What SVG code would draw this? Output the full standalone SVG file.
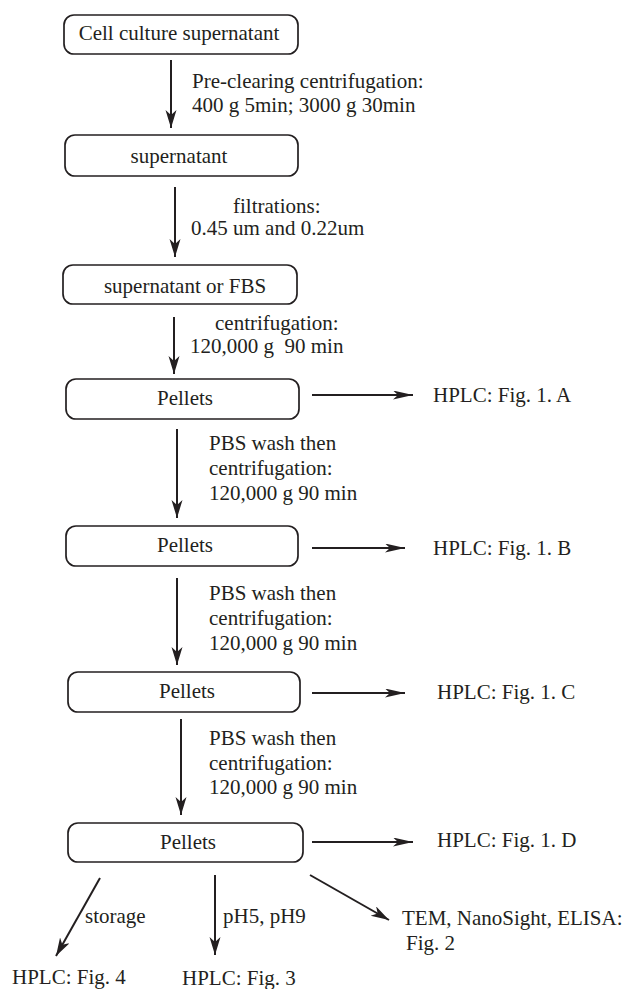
<svg xmlns="http://www.w3.org/2000/svg" width="625" height="989" viewBox="0 0 625 989">
<defs>
<style>
text{font-family:"Liberation Serif","Times New Roman",serif;font-size:21px;fill:#231f20}
.box{fill:#fff;stroke:#231f20;stroke-width:1.7}
.c{text-anchor:middle}
.ln{stroke:#231f20;stroke-width:2;fill:none}
</style>
<marker id="av" markerUnits="userSpaceOnUse" markerWidth="19" markerHeight="12" refX="18" refY="5.5" orient="auto">
<path d="M0,0 L18,5.5 L0,11 L5,5.5 Z" fill="#231f20"/>
</marker>
<marker id="ah" markerUnits="userSpaceOnUse" markerWidth="21" markerHeight="10" refX="20" refY="4.5" orient="auto">
<path d="M0,0 L20,4.5 L0,9 L5,4.5 Z" fill="#231f20"/>
</marker>
</defs>
<rect width="625" height="989" fill="#fff"/>

<g id="n1"><rect class="box" x="64" y="15" width="234" height="39" rx="10"/><text class="c" x="179" y="40">Cell culture supernatant</text></g>
<g id="n2"><rect class="box" x="65" y="135" width="233" height="41" rx="10"/><text class="c" x="179" y="163">supernatant</text></g>
<g id="n3"><rect class="box" x="63" y="265" width="234" height="39" rx="10"/><text class="c" x="185" y="293">supernatant or FBS</text></g>
<g id="n4"><rect class="box" x="66" y="379" width="233" height="40" rx="10"/><text class="c" x="185" y="405">Pellets</text></g>
<g id="n5"><rect class="box" x="66" y="526" width="232" height="40" rx="10"/><text class="c" x="185" y="552">Pellets</text></g>
<g id="n6"><rect class="box" x="68" y="672" width="232" height="40" rx="10"/><text class="c" x="187" y="698">Pellets</text></g>
<g id="n7"><rect class="box" x="68" y="823" width="235" height="39" rx="10"/><text class="c" x="188" y="849">Pellets</text></g>

<g id="outA"><text x="433" y="402">HPLC: Fig. 1. A</text></g>
<g id="outB"><text x="433" y="555">HPLC: Fig. 1. B</text></g>
<g id="outC"><text x="437" y="699">HPLC: Fig. 1. C</text></g>
<g id="outD"><text x="437" y="847">HPLC: Fig. 1. D</text></g>
<g id="out4"><text x="12" y="984">HPLC: Fig. 4</text></g>
<g id="out3"><text x="182" y="985">HPLC: Fig. 3</text></g>
<g id="out2"><text x="402" y="925">TEM, NanoSight, ELISA:</text><text x="406" y="950">Fig. 2</text></g>

<g id="connectors">
<line class="ln" x1="171" y1="60" x2="171" y2="128" marker-end="url(#av)"/>
<line class="ln" x1="175" y1="187" x2="175" y2="257" marker-end="url(#av)"/>
<line class="ln" x1="174" y1="317" x2="174" y2="374" marker-end="url(#av)"/>
<line class="ln" x1="177" y1="429" x2="177" y2="518" marker-end="url(#av)"/>
<line class="ln" x1="177" y1="578" x2="177" y2="665" marker-end="url(#av)"/>
<line class="ln" x1="181" y1="719" x2="181" y2="815" marker-end="url(#av)"/>
<line class="ln" x1="312" y1="395" x2="413" y2="395" marker-end="url(#ah)"/>
<line class="ln" x1="312" y1="548" x2="405" y2="548" marker-end="url(#ah)"/>
<line class="ln" x1="312" y1="693" x2="405" y2="693" marker-end="url(#ah)"/>
<line class="ln" x1="312" y1="842" x2="413" y2="842" marker-end="url(#ah)"/>
<line class="ln" x1="100" y1="878" x2="56" y2="956" marker-end="url(#av)"/>
<line class="ln" x1="215" y1="875" x2="215" y2="955" marker-end="url(#av)"/>
<line class="ln" x1="310" y1="875" x2="389" y2="920" marker-end="url(#av)"/>
<text x="192" y="88">Pre-clearing centrifugation:</text>
<text x="192" y="112">400 g 5min; 3000 g 30min</text>
<text x="233" y="213">filtrations:</text>
<text x="191" y="235">0.45 um and 0.22um</text>
<text x="215" y="330">centrifugation:</text>
<text x="190" y="353" xml:space="preserve">120,000 g  90 min</text>
<text x="209" y="450">PBS wash then</text>
<text x="209" y="475">centrifugation:</text>
<text x="209" y="500">120,000 g 90 min</text>
<text x="209" y="600">PBS wash then</text>
<text x="209" y="625">centrifugation:</text>
<text x="209" y="650">120,000 g 90 min</text>
<text x="209" y="745">PBS wash then</text>
<text x="209" y="770">centrifugation:</text>
<text x="209" y="794">120,000 g 90 min</text>
<text x="85" y="923">storage</text>
<text x="223" y="923">pH5, pH9</text>
</g>
</svg>
